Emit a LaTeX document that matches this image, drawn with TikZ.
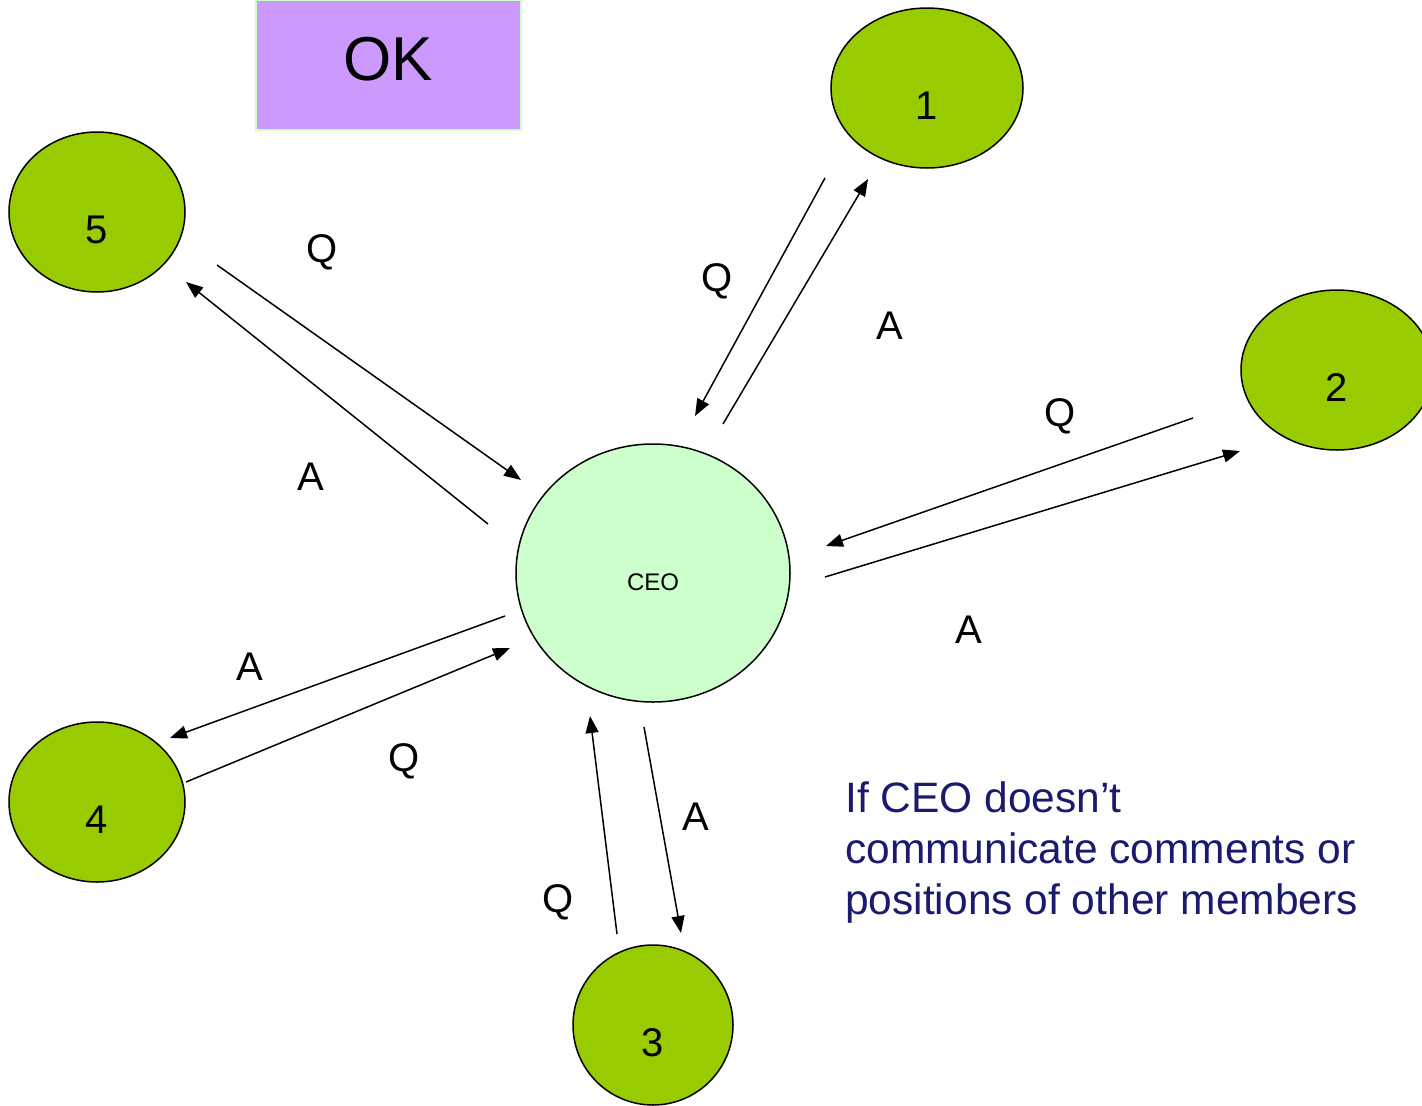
\documentclass[tikz,border=0pt]{standalone}
\usepackage{fontspec}
\setmainfont{Liberation Sans}
\usetikzlibrary{arrows.meta,shapes.geometric}
\definecolor{member}{RGB}{153,204,0}
\definecolor{ceofill}{RGB}{204,255,204}
\definecolor{okfill}{RGB}{204,153,255}
\definecolor{navy}{RGB}{26,26,110}
\tikzset{
  member/.style={ellipse, draw=black, line width=1.5pt, fill=member, inner sep=0pt,
                 font=\fontsize{40}{48}\selectfont, text height=62.6pt, text depth=0pt},
  msg/.style={line width=1.5pt, -{Triangle[length=17pt,width=13pt]}},
  lbl/.style={font=\fontsize{40}{48}\selectfont, inner sep=0pt}
}
\begin{document}
\begin{tikzpicture}[x=1pt,y=-1pt]
\useasboundingbox (0,0) rectangle (1422,1106);
\fill[white] (0,0) rectangle (1422,1106);
% OK box
\node[draw=ceofill, line width=2pt, fill=okfill, minimum width=265pt, minimum height=130pt, inner sep=0pt,
      font=\fontsize{62}{70}\selectfont, text height=44.4pt, text depth=14pt] (ok) at (388.5,65) {OK};
% members
\node[member, minimum width=192pt, minimum height=160pt] (m1) at (927,88) {1};
\node[member, minimum width=192pt, minimum height=160pt] (m2) at (1337,370) {2};
\node[member, minimum width=160pt, minimum height=160pt] (m3) at (653,1025) {3};
\node[member, minimum width=176pt, minimum height=160pt] (m4) at (97,802) {4};
\node[member, minimum width=176pt, minimum height=160pt] (m5) at (97,212) {5};
\node[ellipse, draw=black, line width=1.5pt, fill=ceofill, minimum width=274pt, minimum height=258pt,
      font=\fontsize{24}{28}\selectfont, text height=35.2pt, text depth=0pt] (ceo) at (653,573) {CEO};
% connector end points
\coordinate (q1s) at (825,178);  \coordinate (q1e) at (695,416);
\coordinate (a1s) at (723,424);  \coordinate (a1e) at (868,179);
\coordinate (q2s) at (1193,418); \coordinate (q2e) at (826,546);
\coordinate (a2s) at (825,577);  \coordinate (a2e) at (1240,451);
\coordinate (a3s) at (644,727);  \coordinate (a3e) at (681,933);
\coordinate (q3s) at (617,934);  \coordinate (q3e) at (590,716);
\coordinate (a4s) at (505,616);  \coordinate (a4e) at (170,738);
\coordinate (q4s) at (186,782);  \coordinate (q4e) at (510,648);
\coordinate (q5s) at (217,265);  \coordinate (q5e) at (521,480);
\coordinate (a5s) at (488,524);  \coordinate (a5e) at (186,282);
\draw[msg] (q1s) -- (q1e);
\draw[msg] (a1s) -- (a1e);
\draw[msg] (q2s) -- (q2e);
\draw[msg] (a2s) -- (a2e);
\draw[msg] (a3s) -- (a3e);
\draw[msg] (q3s) -- (q3e);
\draw[msg] (a4s) -- (a4e);
\draw[msg] (q4s) -- (q4e);
\draw[msg] (q5s) -- (q5e);
\draw[msg] (a5s) -- (a5e);
% labels
\node[lbl] (lq1) at (717,281) {Q};
\node[lbl] (la1) at (890,326) {A};
\node[lbl] (lq2) at (1060,416) {Q};
\node[lbl] (la2) at (969,630) {A};
\node[lbl] (la3) at (696,817) {A};
\node[lbl] (lq3) at (558,902) {Q};
\node[lbl] (la4) at (250,667) {A};
\node[lbl] (lq4) at (404,761) {Q};
\node[lbl] (lq5) at (322,252) {Q};
\node[lbl] (la5) at (311,477) {A};
% note
\node[anchor=north west, inner sep=0pt, align=left, text=navy,
      font=\fontsize{42.5}{51}\selectfont] (note) at (845,781)
  {If CEO doesn’t\\communicate comments or\\positions of other members};
\end{tikzpicture}
\end{document}
